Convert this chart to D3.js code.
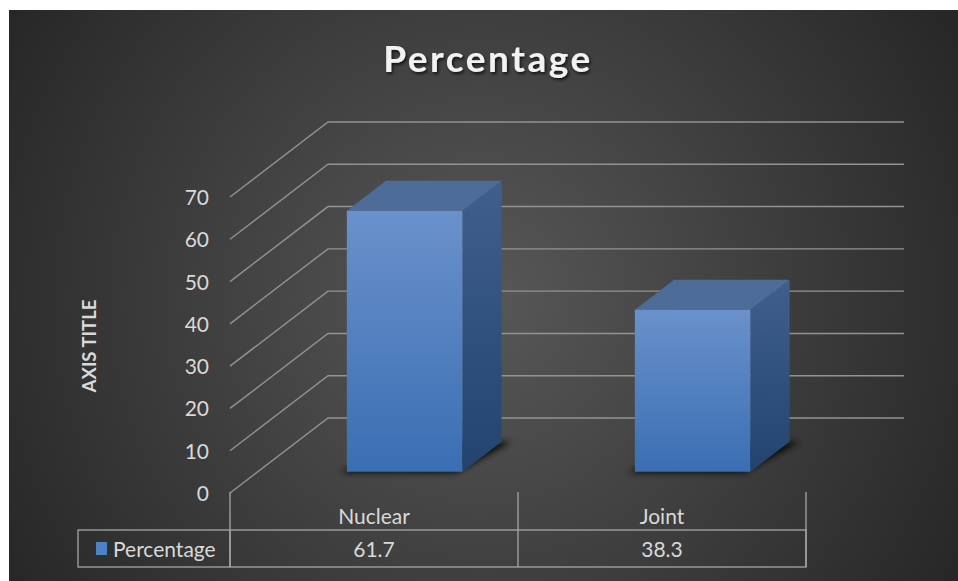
<!DOCTYPE html>
<html>
<head>
<meta charset="utf-8">
<script src="https://cdn.jsdelivr.net/npm/d3@7"></script>
<style>
  html, body { margin: 0; padding: 0; background: #fff; }
  svg { display: block; }
</style>
</head>
<body>
<figure style="margin:0"></figure>
<script>
const categories = ['Nuclear', 'Joint']
const values = [61.7, 38.3]
const seriesName = 'Percentage'
const yTicks = [0, 10, 20, 30, 40, 50, 60, 70]

const width = 958
const height = 581

// oblique 3D projection: full floor depth moves a point by (depthX, depthY)
const depthX = 98
const depthY = -75
const barDepth0 = 0.284
const barDepth1 = 0.684

const svg = d3.select('figure').append('svg')
  .attr('width', width)
  .attr('height', height)
  .style('font-family', "Lato, 'Open Sans', sans-serif")

const defs = svg.append('defs')

const bgGrad = defs.append('radialGradient')
  .attr('id', 'bg')
  .attr('gradientUnits', 'userSpaceOnUse')
  .attr('cx', 480).attr('cy', 300).attr('r', 560)
bgGrad.append('stop').attr('offset', '0%').attr('stop-color', '#585858')
bgGrad.append('stop').attr('offset', '100%').attr('stop-color', '#262626')

const frontGrad = defs.append('linearGradient')
  .attr('id', 'front').attr('x1', 0).attr('y1', 0).attr('x2', 0).attr('y2', 1)
frontGrad.append('stop').attr('offset', '0%').attr('stop-color', '#6a91cb')
frontGrad.append('stop').attr('offset', '100%').attr('stop-color', '#3a6eb3')

const sideGrad = defs.append('linearGradient')
  .attr('id', 'side').attr('x1', 0).attr('y1', 0).attr('x2', 0).attr('y2', 1)
sideGrad.append('stop').attr('offset', '0%').attr('stop-color', '#415f8c')
sideGrad.append('stop').attr('offset', '100%').attr('stop-color', '#22446f')

defs.append('filter').attr('id', 'blur')
  .attr('x', '-20%').attr('y', '-50%').attr('width', '140%').attr('height', '200%')
  .append('feGaussianBlur').attr('stdDeviation', 3)

const shadow = defs.append('filter').attr('id', 'tshadow')
shadow.append('feDropShadow')
  .attr('dx', 1.5).attr('dy', 2).attr('stdDeviation', 1.5)
  .attr('flood-color', '#000').attr('flood-opacity', 0.7)

svg.append('rect')
  .attr('x', 9).attr('y', 10)
  .attr('width', width - 9).attr('height', height - 10)
  .attr('fill', 'url(#bg)')

const y = d3.scaleLinear().domain([0, 70]).range([493, 197])
const x = d3.scaleBand().domain(categories).range([230, 806])

const proj = (px, v, d) => [px + d * depthX, y(v) + d * depthY]

// gridlines: diagonal on side wall + horizontal on back wall
const grid = svg.append('g')
  .attr('stroke', '#939393')
  .attr('stroke-width', 1.4)
  .attr('fill', 'none')

grid.selectAll('path')
  .data(yTicks)
  .join('path')
  .attr('d', v => {
    const a = proj(230, v, 0)
    const b = proj(230, v, 1)
    const c = proj(806, v, 1)
    return d3.line()([a, b, c])
  })

// y tick labels
svg.append('g')
  .selectAll('text')
  .data(yTicks)
  .join('text')
  .attr('x', 209)
  .attr('y', v => y(v) + 8)
  .attr('text-anchor', 'end')
  .attr('fill', '#d9d9d9')
  .attr('font-size', 21)
  .text(v => v)

// axis title
svg.append('text')
  .attr('transform', 'translate(96,346) rotate(-90)')
  .attr('text-anchor', 'middle')
  .attr('fill', '#d9d9d9')
  .attr('font-size', 18.5)
  .attr('font-weight', 'bold')
  .text('AXIS TITLE')

// chart title
svg.append('text')
  .attr('x', 488)
  .attr('y', 72)
  .attr('text-anchor', 'middle')
  .attr('fill', '#f2f2f2')
  .attr('font-size', 37)
  .attr('font-weight', 'bold')
  .attr('letter-spacing', 2.5)
  .attr('filter', 'url(#tshadow)')
  .text('Percentage')

// bars
const barPad = 89
const barW = 115.6
const bars = svg.append('g')
  .selectAll('g')
  .data(categories.map((c, i) => ({ cat: c, value: values[i] })))
  .join('g')

const corners = d => {
  const x0 = x(d.cat) + barPad
  const x1 = x0 + barW
  return {
    fbl: proj(x0, 0, barDepth0),
    fbr: proj(x1, 0, barDepth0),
    ftl: proj(x0, d.value, barDepth0),
    ftr: proj(x1, d.value, barDepth0),
    bbl: proj(x0, 0, barDepth1),
    bbr: proj(x1, 0, barDepth1),
    btl: proj(x0, d.value, barDepth1),
    btr: proj(x1, d.value, barDepth1)
  }
}

bars.append('path')
  .attr('fill', '#000')
  .attr('opacity', 0.85)
  .attr('filter', 'url(#blur)')
  .attr('d', d => {
    const k = corners(d)
    const off = p => [p[0] - 6, p[1] + 1]
    return d3.line()([off(k.fbl), off(k.fbr), [k.bbr[0] + 10, k.bbr[1]], k.bbl]) + 'Z'
  })

bars.append('path')
  .attr('fill', 'url(#side)')
  .attr('d', d => {
    const k = corners(d)
    return d3.line()([k.fbr, k.ftr, k.btr, k.bbr]) + 'Z'
  })

bars.append('path')
  .attr('fill', '#4e6c98')
  .attr('d', d => {
    const k = corners(d)
    return d3.line()([k.ftl, k.ftr, k.btr, k.btl]) + 'Z'
  })

bars.append('path')
  .attr('fill', 'url(#front)')
  .attr('d', d => {
    const k = corners(d)
    return d3.line()([k.fbl, k.fbr, k.ftr, k.ftl]) + 'Z'
  })

// data table
const table = svg.append('g')
  .attr('stroke', '#a6a6a6')
  .attr('stroke-width', 1.3)
  .attr('fill', 'none')

const colEdges = [230, ...categories.map(c => x(c) + x.bandwidth())]
table.selectAll('line.v')
  .data(colEdges)
  .join('line')
  .attr('class', 'v')
  .attr('x1', d => d).attr('x2', d => d)
  .attr('y1', 492).attr('y2', 567)

table.append('rect')
  .attr('x', 78).attr('y', 530)
  .attr('width', 806 - 78).attr('height', 37)

table.append('line')
  .attr('x1', 230).attr('x2', 230)
  .attr('y1', 530).attr('y2', 567)

svg.append('g')
  .selectAll('text')
  .data(categories)
  .join('text')
  .attr('x', c => x(c) + x.bandwidth() / 2)
  .attr('y', 524)
  .attr('text-anchor', 'middle')
  .attr('fill', '#d9d9d9')
  .attr('font-size', 21)
  .text(c => c)

svg.append('g')
  .selectAll('text')
  .data(values)
  .join('text')
  .attr('x', (v, i) => x(categories[i]) + x.bandwidth() / 2)
  .attr('y', 557)
  .attr('text-anchor', 'middle')
  .attr('fill', '#d9d9d9')
  .attr('font-size', 21)
  .text(v => v)

svg.append('rect')
  .attr('x', 96).attr('y', 542)
  .attr('width', 11).attr('height', 13)
  .attr('fill', '#4f81c7')

svg.append('text')
  .attr('x', 113)
  .attr('y', 557)
  .attr('fill', '#d9d9d9')
  .attr('font-size', 21)
  .text(seriesName)
</script>
</body>
</html>
